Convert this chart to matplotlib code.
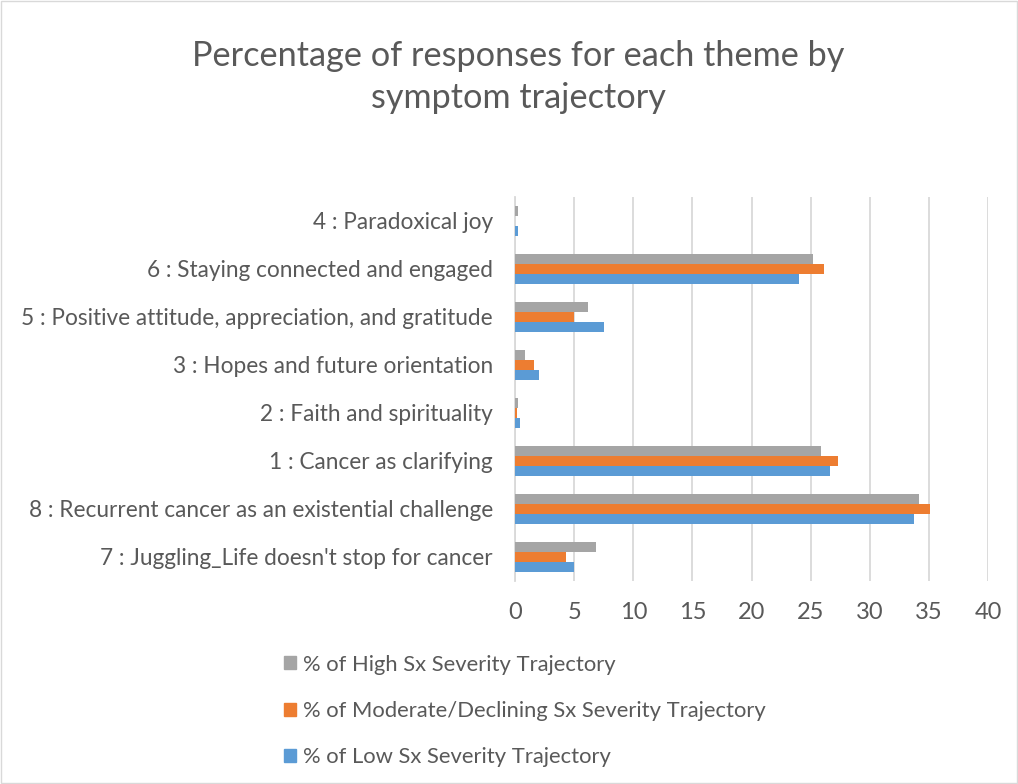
import numpy as np
import matplotlib.pyplot as plt
from matplotlib.patches import Rectangle, Patch

plt.rcParams['font.family'] = ['Lato', 'DejaVu Sans']

# categories listed bottom to top, as drawn on the axis
themes = ["7 : Juggling_Life doesn't stop for cancer",
          "8 : Recurrent cancer as an existential challenge",
          "1 : Cancer as clarifying",
          "2 : Faith and spirituality",
          "3 : Hopes and future orientation",
          "5 : Positive attitude, appreciation, and gratitude",
          "6 : Staying connected and engaged",
          "4 : Paradoxical joy"]
high = [6.8, 34.2, 25.9, 0.28, 0.87, 6.2, 25.2, 0.25]
moderate = [4.3, 35.1, 27.3, 0.17, 1.6, 5.0, 26.1, 0.0]
low = [5.0, 33.7, 26.6, 0.45, 2.05, 7.5, 24.0, 0.25]
series_names = ["% of High Sx Severity Trajectory",
                "% of Moderate/Declining Sx Severity Trajectory",
                "% of Low Sx Severity Trajectory"]
colors = ["#A5A5A5", "#ED7D31", "#5B9BD5"]
txt = "#595959"

fig = plt.figure(figsize=(10.18, 7.84), dpi=100)
fig.patches.append(Rectangle((0.001, 0.001), 0.998, 0.998, transform=fig.transFigure,
                             fill=False, edgecolor="#D9D9D9", linewidth=1))

ax = fig.add_axes([0.506, 0.259, 0.4646, 0.4898])
y = np.arange(len(themes))
h = 0.205
ax.barh(y + h, high, height=h, color=colors[0], zorder=3)
ax.barh(y, moderate, height=h, color=colors[1], zorder=3)
ax.barh(y - h, low, height=h, color=colors[2], zorder=3)

ax.set_xlim(0, 40)
ax.set_ylim(-0.5, len(themes) - 0.5)
ax.set_xticks(range(0, 41, 5))
ax.set_yticks(y)
ax.set_yticklabels(themes)
ax.xaxis.grid(True, color="#D9D9D9", linewidth=1.3, zorder=0)
ax.tick_params(axis="both", length=0, labelsize=16.3, colors=txt)
ax.tick_params(axis="x", labelsize=17, pad=15)
ax.tick_params(axis="y", pad=16)
for s in ["top", "right", "bottom"]:
    ax.spines[s].set_visible(False)
ax.spines["left"].set_color("#D9D9D9")
ax.spines["left"].set_linewidth(1.3)

fig.text(0.509, 0.902, "Percentage of responses for each theme by\nsymptom trajectory",
         ha="center", va="center", fontsize=24.7, color=txt, linespacing=1.38)

handles = [Patch(color=c) for c in colors]
fig.legend(handles, series_names, loc="upper left", bbox_to_anchor=(0.268, 0.179),
           frameon=False, fontsize=15.8, labelcolor=txt, handlelength=0.55,
           handleheight=0.55, handletextpad=0.33, labelspacing=1.2, borderpad=0)

fig.savefig("out.png")
